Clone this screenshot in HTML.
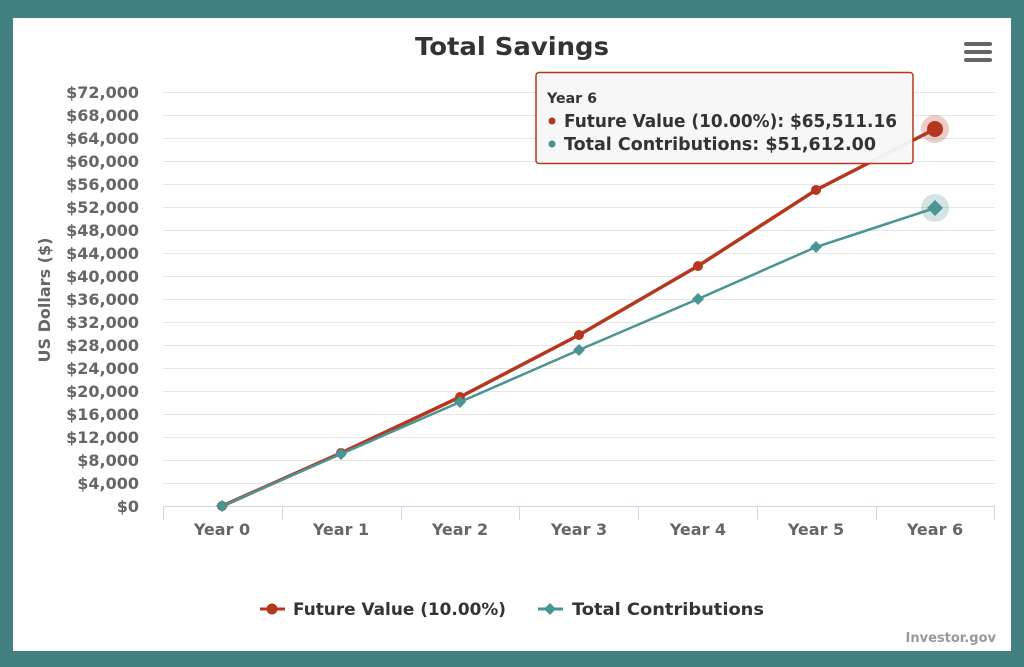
<!DOCTYPE html>
<html><head><style>
html,body{margin:0;padding:0;width:1024px;height:667px;background:#427f7f;overflow:hidden}
</style></head><body>
<svg width="1024" height="667" xmlns="http://www.w3.org/2000/svg" style="position:absolute;left:0;top:0;font-family:'DejaVu Sans','Liberation Sans',sans-serif">
<rect x="0" y="0" width="1024" height="667" fill="#427f7f"/>
<rect x="13" y="18" width="998" height="633" fill="#fff"/>
<text x="415" y="55" font-size="25" font-weight="bold" fill="#333" textLength="194" lengthAdjust="spacingAndGlyphs">Total Savings</text>
<g fill="#666"><rect x="964" y="42" width="28" height="4" rx="2"/><rect x="964" y="50" width="28" height="4" rx="2"/><rect x="964" y="58" width="28" height="4" rx="2"/></g>
<g stroke="#e6e6e6" stroke-width="1">
<line x1="163" x2="995" y1="92.5" y2="92.5"/><line x1="163" x2="995" y1="115.5" y2="115.5"/><line x1="163" x2="995" y1="138.5" y2="138.5"/><line x1="163" x2="995" y1="161.5" y2="161.5"/><line x1="163" x2="995" y1="184.5" y2="184.5"/><line x1="163" x2="995" y1="207.5" y2="207.5"/><line x1="163" x2="995" y1="230.5" y2="230.5"/><line x1="163" x2="995" y1="253.5" y2="253.5"/><line x1="163" x2="995" y1="276.5" y2="276.5"/><line x1="163" x2="995" y1="299.5" y2="299.5"/><line x1="163" x2="995" y1="322.5" y2="322.5"/><line x1="163" x2="995" y1="345.5" y2="345.5"/><line x1="163" x2="995" y1="368.5" y2="368.5"/><line x1="163" x2="995" y1="391.5" y2="391.5"/><line x1="163" x2="995" y1="414.5" y2="414.5"/><line x1="163" x2="995" y1="437.5" y2="437.5"/><line x1="163" x2="995" y1="460.5" y2="460.5"/><line x1="163" x2="995" y1="483.5" y2="483.5"/>
</g>
<g stroke="#ccd6eb" stroke-width="1">
<line x1="163" x2="995" y1="506.5" y2="506.5"/>
<line x1="163.5" x2="163.5" y1="506" y2="520"/><line x1="282.5" x2="282.5" y1="506" y2="520"/><line x1="401.5" x2="401.5" y1="506" y2="520"/><line x1="519.5" x2="519.5" y1="506" y2="520"/><line x1="638.5" x2="638.5" y1="506" y2="520"/><line x1="757.5" x2="757.5" y1="506" y2="520"/><line x1="876.5" x2="876.5" y1="506" y2="520"/><line x1="994.5" x2="994.5" y1="506" y2="520"/>
</g>
<g font-size="16" font-weight="bold" fill="#666" text-anchor="end">
<text x="139" y="98">$72,000</text><text x="139" y="121">$68,000</text><text x="139" y="144">$64,000</text><text x="139" y="167">$60,000</text><text x="139" y="190">$56,000</text><text x="139" y="213">$52,000</text><text x="139" y="236">$48,000</text><text x="139" y="259">$44,000</text><text x="139" y="282">$40,000</text><text x="139" y="305">$36,000</text><text x="139" y="328">$32,000</text><text x="139" y="351">$28,000</text><text x="139" y="374">$24,000</text><text x="139" y="397">$20,000</text><text x="139" y="420">$16,000</text><text x="139" y="443">$12,000</text><text x="139" y="466">$8,000</text><text x="139" y="489">$4,000</text><text x="139" y="512">$0</text>
</g>
<text transform="translate(50,300) rotate(-90)" text-anchor="middle" font-size="16" font-weight="bold" fill="#666">US Dollars ($)</text>
<g font-size="16" font-weight="bold" fill="#666" text-anchor="middle">
<text x="222" y="535">Year 0</text><text x="341" y="535">Year 1</text><text x="460" y="535">Year 2</text><text x="579" y="535">Year 3</text><text x="698" y="535">Year 4</text><text x="816" y="535">Year 5</text><text x="935" y="535">Year 6</text>
</g>
<polyline points="222,506 341,453 460,397 579,335 698,266 816,190 935,129" fill="none" stroke="#b5371f" stroke-width="3.5"/>
<g fill="#b5371f"><circle cx="222" cy="506" r="5"/><circle cx="341" cy="453" r="5"/><circle cx="460" cy="397" r="5"/><circle cx="579" cy="335" r="5"/><circle cx="698" cy="266" r="5"/><circle cx="816" cy="190" r="5"/></g>
<circle cx="935" cy="129" r="14" fill="#b5371f" opacity="0.25"/><circle cx="935" cy="129" r="8" fill="#b5371f"/>
<polyline points="222,506 341,454 460,402 579,350 698,299 816,247 935,208" fill="none" stroke="#4a9494" stroke-width="2.5"/>
<g fill="#4a9494"><path d="M222 500l6 6-6 6-6-6z"/><path d="M341 448l6 6-6 6-6-6z"/><path d="M460 396l6 6-6 6-6-6z"/><path d="M579 344l6 6-6 6-6-6z"/><path d="M698 293l6 6-6 6-6-6z"/><path d="M816 241l6 6-6 6-6-6z"/></g>
<circle cx="935" cy="208" r="14" fill="#4a9494" opacity="0.25"/><path d="M935 200l8 8-8 8-8-8z" fill="#4a9494"/>
<rect x="536" y="72.5" width="377" height="91" rx="3" fill="#f7f7f7" fill-opacity="0.95" stroke="#b5371f" stroke-width="1.5"/>
<text x="547" y="103" font-size="14" font-weight="bold" fill="#333" textLength="50" lengthAdjust="spacingAndGlyphs">Year 6</text>
<circle cx="552" cy="121" r="3.5" fill="#b5371f"/>
<text x="564" y="127" font-size="18" font-weight="bold" fill="#333" textLength="333" lengthAdjust="spacingAndGlyphs">Future Value (10.00%): $65,511.16</text>
<circle cx="552" cy="144" r="3.5" fill="#4a9494"/>
<text x="564" y="150" font-size="18" font-weight="bold" fill="#333" textLength="312" lengthAdjust="spacingAndGlyphs">Total Contributions: $51,612.00</text>
<line x1="260" x2="285" y1="609" y2="609" stroke="#b5371f" stroke-width="3"/><circle cx="272" cy="609" r="5.5" fill="#b5371f"/>
<text x="293" y="615" font-size="17" font-weight="bold" fill="#333" textLength="213" lengthAdjust="spacingAndGlyphs">Future Value (10.00%)</text>
<line x1="538" x2="563" y1="609" y2="609" stroke="#4a9494" stroke-width="3"/><path d="M550 603l6 6-6 6-6-6z" fill="#4a9494"/>
<text x="572" y="615" font-size="17" font-weight="bold" fill="#333" textLength="192" lengthAdjust="spacingAndGlyphs">Total Contributions</text>
<text x="996" y="642" text-anchor="end" font-size="13" font-weight="bold" fill="#999">Investor.gov</text>
</svg>
</body></html>
